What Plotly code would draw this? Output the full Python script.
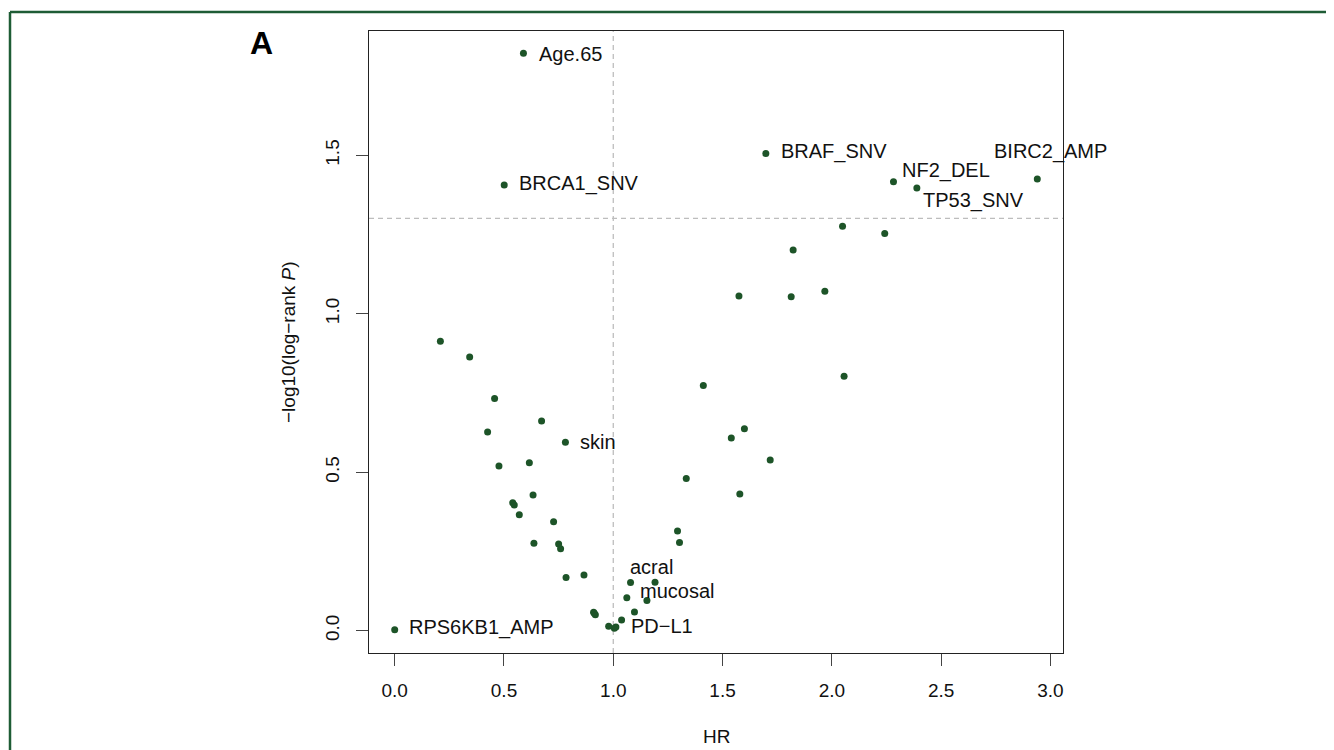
import plotly.graph_objects as go

# ---- data ----
hr = [0.589, 0.501, 1.698, 2.282, 2.389, 2.940, 2.049, 2.242, 1.823, 1.575,
      1.814, 1.968, 2.056, 1.412, 1.600, 1.540, 1.718, 1.334, 1.579, 1.294,
      1.303, 0.209, 0.343, 0.457, 0.672, 0.425, 0.781, 0.477, 0.616, 0.633,
      0.540, 0.547, 0.570, 0.727, 0.637, 0.750, 0.759, 0.784, 0.866, 0.910,
      0.918, 0.913, 0.979, 1.005, 1.012, 1.038, 1.097, 1.062, 1.154, 1.079,
      1.191, 0.000]
neglogp = [1.822, 1.406, 1.506, 1.417, 1.397, 1.425, 1.276, 1.253, 1.201, 1.056,
           1.054, 1.071, 0.803, 0.774, 0.637, 0.608, 0.539, 0.480, 0.431, 0.315,
           0.278, 0.913, 0.864, 0.733, 0.662, 0.627, 0.595, 0.520, 0.530, 0.428,
           0.404, 0.397, 0.366, 0.344, 0.276, 0.274, 0.259, 0.168, 0.176, 0.058,
           0.050, 0.055, 0.014, 0.008, 0.012, 0.034, 0.059, 0.104, 0.095, 0.152,
           0.153, 0.003]

# text labels: (label, x of text left edge, y of text centre)
label_text = ["Age.65", "BRCA1_SNV", "BRAF_SNV", "NF2_DEL", "TP53_SNV", "BIRC2_AMP",
              "skin", "acral", "mucosal", "PD\u2212L1", "RPS6KB1_AMP"]
label_x = [0.651, 0.560, 1.756, 2.311, 2.410, 2.734, 0.839, 1.067, 1.114, 1.070, 0.057]
label_y = [1.821, 1.411, 1.512, 1.451, 1.358, 1.512, 0.595, 0.201, 0.126, 0.014, 0.009]

x_ticks = [0.0, 0.5, 1.0, 1.5, 2.0, 2.5, 3.0]
y_ticks = [0.0, 0.5, 1.0, 1.5]
hr_ref = 1.0
p_ref = 1.301  # -log10(0.05)

FONT = "Liberation Sans, Arial, Helvetica, sans-serif"
PT_COLOR = "#1d5428"
FRAME_COLOR = "#1e5c35"

# page body has an 8px margin; work in window pixels and subtract it
OFF = 8
W, H = 1334 - OFF, 750 - OFF
L, T = 369 - OFF, 31 - OFF
pw, ph = 694, 622
R, B = W - L - pw, H - T - ph

def px2paper_x(px):
    return (px - OFF - L) / pw

def py2paper_y(py):
    return 1 - (py - OFF - T) / ph

fig = go.Figure()
fig.add_trace(go.Scatter(
    x=hr, y=neglogp, mode="markers",
    marker=dict(size=7, color=PT_COLOR, line=dict(width=0)),
    hoverinfo="x+y", showlegend=False, cliponaxis=False))

for t, x, y in zip(label_text, label_x, label_y):
    fig.add_annotation(x=x, y=y, text=t, showarrow=False, xanchor="left",
                       yanchor="middle", font=dict(size=20, color="#111", family=FONT))

# reference lines
fig.add_shape(type="line", xref="x", yref="paper", x0=hr_ref, x1=hr_ref, y0=0, y1=1,
              line=dict(color="#bdbdbd", width=1.3, dash="5px,4px"), layer="below")
fig.add_shape(type="line", xref="paper", yref="y", x0=0, x1=1, y0=p_ref, y1=p_ref,
              line=dict(color="#bdbdbd", width=1.3, dash="5px,4px"), layer="below")

# outer frame (left and top edges visible)
fig.add_shape(type="line", xref="paper", yref="paper",
              x0=px2paper_x(10), x1=px2paper_x(1400), y0=py2paper_y(12), y1=py2paper_y(12),
              line=dict(color=FRAME_COLOR, width=2.5))
fig.add_shape(type="line", xref="paper", yref="paper",
              x0=px2paper_x(10), x1=px2paper_x(10), y0=py2paper_y(12), y1=py2paper_y(800),
              line=dict(color=FRAME_COLOR, width=2.5))

# panel letter
fig.add_annotation(xref="paper", yref="paper", x=px2paper_x(261.5), y=py2paper_y(43.5),
                   text="<b>A</b>", showarrow=False, xanchor="center", yanchor="middle",
                   font=dict(size=32, color="#000", family=FONT))

# axis titles
fig.add_annotation(xref="paper", yref="paper", x=px2paper_x(716), y=py2paper_y(736),
                   text="HR", showarrow=False, xanchor="center", yanchor="middle",
                   font=dict(size=19, color="#111", family=FONT))
fig.add_annotation(xref="paper", yref="paper", x=px2paper_x(288), y=py2paper_y(342),
                   text="\u2212log10(log\u2212rank <i>P</i>)", showarrow=False, textangle=-90,
                   xanchor="center", yanchor="middle",
                   font=dict(size=19, color="#111", family=FONT))

fig.update_layout(
    width=W, height=H,
    margin=dict(l=L, r=R, t=T, b=B, autoexpand=False),
    paper_bgcolor="white", plot_bgcolor="white",
    font=dict(family=FONT, size=19, color="#111"),
    xaxis=dict(range=[-0.1176, 3.0576], tickvals=x_ticks,
               ticktext=[f"{v:.1f}" for v in x_ticks],
               showgrid=False, zeroline=False, showline=True, mirror=True,
               linecolor="#222", linewidth=1.2, ticks="outside", ticklen=12,
               tickwidth=1.2, tickcolor="#444", ticklabelstandoff=8),
    yaxis=dict(range=[-0.0703, 1.8923], tickvals=y_ticks,
               ticktext=[f"{v:.1f}" for v in y_ticks], tickangle=-90,
               showgrid=False, zeroline=False, showline=True, mirror=True,
               linecolor="#222", linewidth=1.2, ticks="outside", ticklen=12,
               tickwidth=1.2, tickcolor="#444", ticklabelstandoff=9),
)

fig.write_html("out.html")
